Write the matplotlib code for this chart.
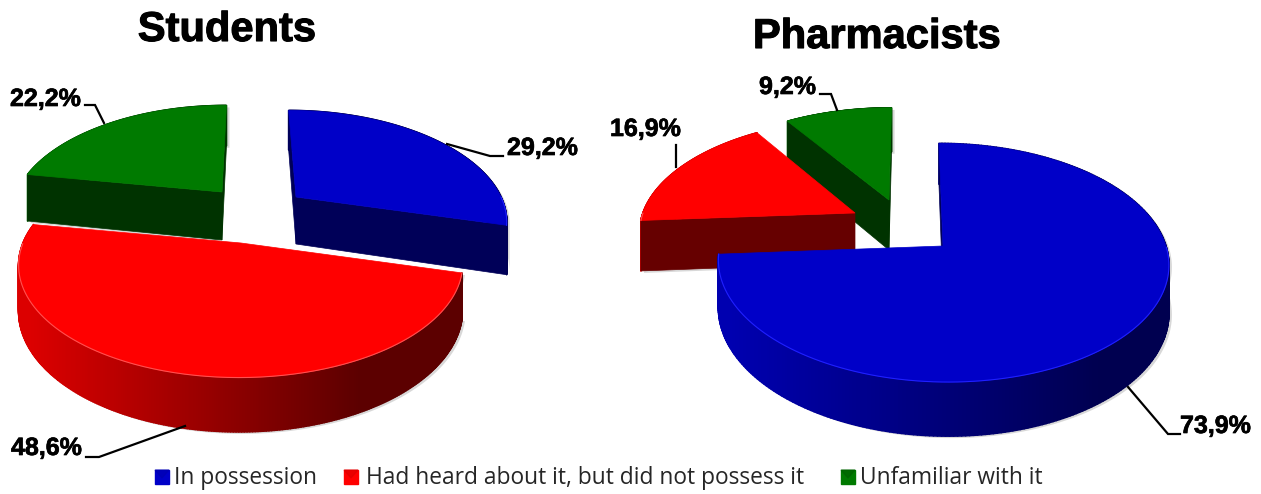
import numpy as np
import matplotlib
matplotlib.use('Agg')
from matplotlib import pyplot as plt
from matplotlib.collections import PolyCollection
from matplotlib import patheffects

categories = ['In possession', 'Had heard about it, but did not possess it', 'Unfamiliar with it']
students = [29.2, 48.6, 22.2]
pharmacists = [73.9, 16.9, 9.2]

top_colors = ['#0000c8', '#ff0000', '#007a00']
cut_colors = ['#000058', '#660000', '#003300']
rim_left = ['#0000b0', '#dc0000', '#006000']
rim_right = ['#000050', '#5c0000', '#003300']
edge_colors = ['#2020ff', '#ff5050', '#20a020']


def to_rgb(c):
    return np.array(matplotlib.colors.to_rgb(c))


def project(pie, i, r, theta):
    # flat ground plane to screen, things further back shrink towards vx
    centre = pie['centres'][i]
    s = 1 / (1 + pie['k'] * r * np.cos(theta))
    x = pie['vx'] + (centre[0] - pie['vx'] + pie['rx'][i] * r * np.sin(theta)) * s
    y = centre[1] - pie['ry'][i] * r * np.cos(theta) * s
    return x, y, s


def draw_wedge(ax, pie, i, start, end):
    z = pie['z'][i]
    depth = pie['depth'][i]
    thetas = np.radians(np.linspace(start, end, 300))
    x, y, s = project(pie, i, 1.0, thetas)
    y_low = y + depth * s
    x0, y0, s0 = project(pie, i, 0.0, 0.0)
    y0_low = y0 + depth * s0

    # soft shadow just behind the solid
    ax.fill(np.r_[x0, x, x[::-1]] + 3, np.r_[y0_low, y_low, y[::-1]] + 2, color='#808080', alpha=0.3,
            lw=0, zorder=z - 0.1)

    # rim, colour runs from left to right
    polys = []
    colors = []
    left = to_rgb(rim_left[i])
    right = to_rgb(rim_right[i])
    span = pie['rim_span']
    for a in range(len(x) - 1):
        polys.append([(x[a], y[a]), (x[a + 1], y[a + 1]), (x[a + 1], y_low[a + 1]), (x[a], y_low[a])])
        t = np.clip((x[a] - span[0]) / (span[1] - span[0]), 0, 1)
        colors.append(left + (right - left) * t)
    ax.add_collection(PolyCollection(polys, facecolors=colors, edgecolors=colors, linewidths=1.2, zorder=z))

    # cut faces go over the rim, only the ones with the wedge above them show
    xm, ym = x[len(x) // 2], y[len(y) // 2]
    for k in [0, -1]:
        side = (x[k] - x0) * (ym - y0) - (y[k] - y0) * (xm - x0)
        if x[k] < x0:
            side = -side
        if side < 0:
            ax.fill([x0, x[k], x[k], x0], [y0, y[k], y_low[k], y0_low],
                    color=cut_colors[i], lw=0.5, zorder=z + 0.1)

    ax.fill(np.r_[x0, x], np.r_[y0, y], color=top_colors[i], lw=0.5, zorder=z + 0.5)

    # thin light line on the front edge of the top
    front = np.cos(thetas) < 0
    ax.plot(x[front], y[front], color=edge_colors[i], lw=0.8, zorder=z + 0.6)


def draw_pie(ax, pie, values):
    start = 0.0
    for i, v in enumerate(values):
        end = start + v / sum(values) * 360
        draw_wedge(ax, pie, i, start, end)
        start = end


def draw_label(ax, value, x, y, line):
    ax.plot(line[0], line[1], color='black', lw=1.6, zorder=10, solid_joinstyle='miter')
    t = ax.text(x, y, f'{value:.1f}%'.replace('.', ','), fontsize=18, fontweight='bold',
                family='Liberation Sans', ha='left', va='center', zorder=11)
    t.set_path_effects([patheffects.withStroke(linewidth=0.5, foreground='black')])


fig = plt.figure(figsize=(12.61, 4.94), dpi=100)
ax = fig.add_axes([0, 0, 1, 1])
ax.set_xlim(0, 1261)
ax.set_ylim(494, 0)
ax.axis('off')

students_pie = {'rx': [205, 218, 205], 'ry': [103, 109, 103], 'k': 0.19, 'depth': [47, 44, 48], 'vx': 250,
                'centres': [(296, 197), (241, 243), (222, 192)],
                'z': [2, 3, 1], 'rim_span': (30, 360)}
pharmacists_pie = {'rx': [223, 212, 212], 'ry': [117, 107, 105], 'k': 0.14, 'depth': [46.5, 50, 50], 'vx': 910,
                   'centres': [(943, 246), (855, 213), (889, 200)],
                   'z': [3, 2, 1], 'rim_span': (730, 1100)}

draw_pie(ax, students_pie, students)
draw_pie(ax, pharmacists_pie, pharmacists)

for title, x, y in [('Students', 227, 30), ('Pharmacists', 877, 37)]:
    t = ax.text(x, y, title, fontsize=30, fontweight='bold', family='Liberation Sans',
                ha='center', va='center', zorder=11)
    t.set_path_effects([patheffects.withStroke(linewidth=0.8, foreground='black')])

draw_label(ax, students[0], 507, 148, ([447, 490, 503], [144, 156, 156]))
draw_label(ax, students[1], 11, 448, ([185, 99, 86], [426, 457, 457]))
draw_label(ax, students[2], 10, 99, ([104, 95, 85], [123, 105, 105]))
draw_label(ax, pharmacists[0], 1180, 426, ([1128, 1168, 1180], [387, 434, 434]))
draw_label(ax, pharmacists[1], 610, 129, ([676, 676], [145, 167]))
draw_label(ax, pharmacists[2], 759, 87, ([820, 831, 837], [94, 94, 110]))

# legend
for i, (name, xm, xt) in enumerate(zip(categories, [162, 351, 848], [174, 366, 860])):
    ax.fill([xm - 7, xm + 7, xm + 7, xm - 7], [470, 470, 484, 484], color=top_colors[i], zorder=5)
    ax.fill([xm - 7, xm + 7, xm], [470, 470, 478], color=rim_left[i], alpha=0.6, zorder=6)
    ax.text(xt, 478, name, fontsize=16.4, family='Open Sans', ha='left', va='center', color='#262626')

fig.savefig('out.png', dpi=100)
